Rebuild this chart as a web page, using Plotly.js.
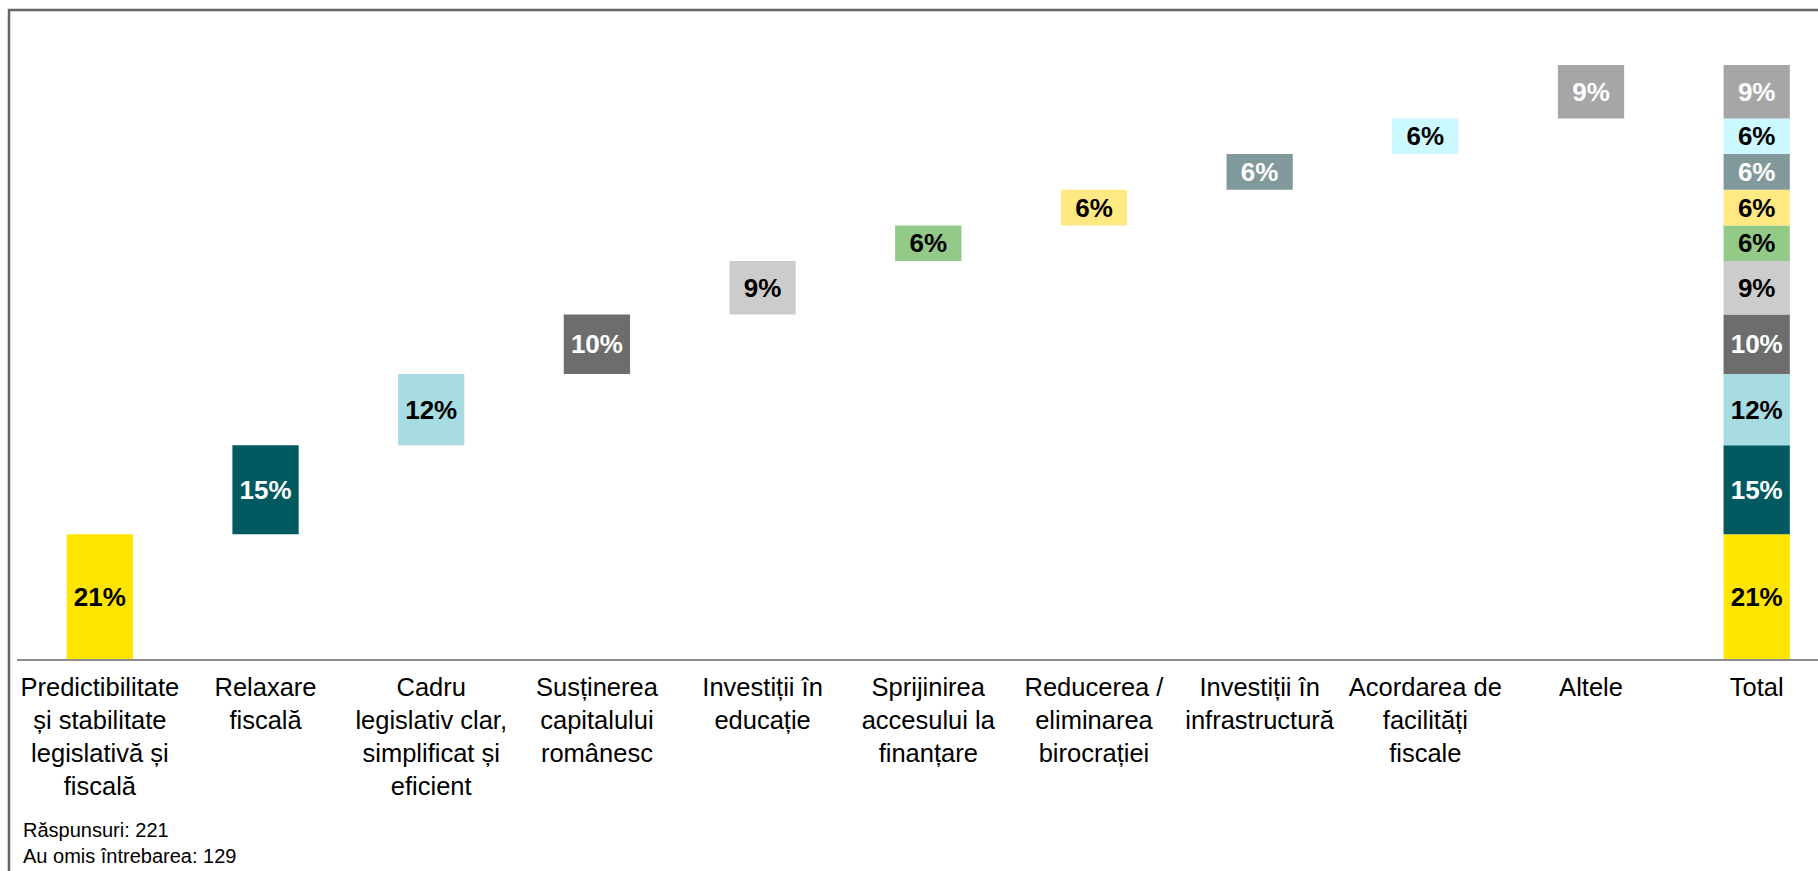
<!DOCTYPE html>
<html>
<head>
<meta charset="utf-8">
<script src="https://cdn.plot.ly/plotly-3.0.1.min.js"></script>
<style>
  html, body { margin: 0; padding: 0; background: #fff; }
  #chart { width: 1818px; height: 871px; }
</style>
</head>
<body>
<div id="chart"></div>
<script>
// ---- data ----
const categories = [
  "Predictibilitate și stabilitate legislativă și fiscală",
  "Relaxare fiscală",
  "Cadru legislativ clar, simplificat și eficient",
  "Susținerea capitalului românesc",
  "Investiții în educație",
  "Sprijinirea accesului la finanțare",
  "Reducerea / eliminarea birocrației",
  "Investiții în infrastructură",
  "Acordarea de facilități fiscale",
  "Altele"
];
const totalLabel = "Total";
const tickLabels = [
  "Predictibilitate<br>și stabilitate<br>legislativă și<br>fiscală",
  "Relaxare<br>fiscală",
  "Cadru<br>legislativ clar,<br>simplificat și<br>eficient",
  "Susținerea<br>capitalului<br>românesc",
  "Investiții în<br>educație",
  "Sprijinirea<br>accesului la<br>finanțare",
  "Reducerea /<br>eliminarea<br>birocrației",
  "Investiții în<br>infrastructură",
  "Acordarea de<br>facilități<br>fiscale",
  "Altele",
  "Total"
];
const values = [21, 15, 12, 10, 9, 6, 6, 6, 6, 9];
const noteLines = ["Răspunsuri: 221", "Au omis întrebarea: 129"];

// ---- styles ----
const barColors = ["#FFE600", "#005A60", "#A6DCE2", "#6D6D6D", "#CCCCCC",
                   "#93CA88", "#FFE983", "#82999B", "#CCF9FF", "#A6A6A6"];
const textColors = ["#000", "#fff", "#000", "#fff", "#000",
                    "#000", "#000", "#fff", "#000", "#fff"];

const xKeys = categories.concat([totalLabel]);

const traces = [];
let cum = 0;
values.forEach((v, i) => {
  traces.push({
    type: "bar",
    x: [categories[i], totalLabel],
    y: [v, v],
    base: [cum, cum],
    width: 0.4,
    marker: { color: barColors[i], line: { width: 0 } },
    text: [v + "%", v + "%"],
    textposition: "inside",
    insidetextanchor: "middle",
    textangle: 0,
    constraintext: "none",
    textfont: { family: "Liberation Sans, Arial, sans-serif", size: 26, weight: "bold", color: textColors[i] },
    hoverinfo: "skip",
    showlegend: false
  });
  cum += v;
});

const pxL = 17, pxR = 1818, pxTop = 65, pxAxis = 659;
const pw = pxR - pxL, ph = pxAxis - pxTop;
const px2x = p => (p - pxL) / pw;
const py2y = p => (pxAxis - p) / ph;

const layout = {
  width: 1818, height: 871,
  margin: { l: pxL, r: 1818 - pxR, t: pxTop, b: 871 - pxAxis, pad: 0 },
  paper_bgcolor: "#fff", plot_bgcolor: "#fff",
  barmode: "overlay",
  font: { family: "Liberation Sans, Arial, sans-serif", color: "#000" },
  xaxis: {
    type: "category",
    categoryorder: "array", categoryarray: xKeys,
    tickmode: "array", tickvals: xKeys, ticktext: tickLabels,
    range: [-0.5, 10.37], autorange: false,
    showline: true, linecolor: "#8c8c8c", linewidth: 2,
    showgrid: false, zeroline: false, ticks: "",
    tickfont: { size: 25.5, color: "#000" },
    ticklabelstandoff: 4,
    fixedrange: true
  },
  yaxis: {
    range: [0, 100], autorange: false,
    visible: false, showgrid: false, zeroline: false,
    fixedrange: true
  },
  shapes: [{
    type: "path", xref: "paper", yref: "paper",
    path: `M ${px2x(9)} ${py2y(900)} L ${px2x(9)} ${py2y(10)} L ${px2x(1830)} ${py2y(10)}`,
    line: { color: "#666666", width: 2.5 }
  }],
  annotations: [
    { xref: "paper", yref: "paper", x: px2x(21), y: py2y(830), xanchor: "left", yanchor: "middle",
      text: noteLines[0], showarrow: false, font: { size: 20, color: "#000" } },
    { xref: "paper", yref: "paper", x: px2x(21), y: py2y(856), xanchor: "left", yanchor: "middle",
      text: noteLines[1], showarrow: false, font: { size: 20, color: "#000" } }
  ]
};

Plotly.newPlot("chart", traces, layout, { displayModeBar: false, staticPlot: true });
</script>
</body>
</html>
